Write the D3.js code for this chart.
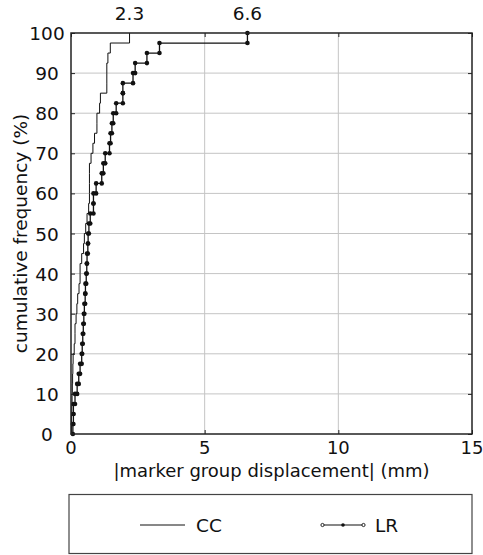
<!DOCTYPE html>
<html>
<head>
<meta charset="utf-8">
<script src="https://cdn.jsdelivr.net/npm/d3@7"></script>
<style>
  html, body { margin: 0; padding: 0; background: #fff; }
  svg { display: block; }
  text { font-family: "DejaVu Sans", sans-serif; fill: #111; }
</style>
</head>
<body>
<svg id="chart" width="483" height="555"></svg>
<script>
// sorted displacement samples (mm), each adding 2.5% cumulative frequency
const ccValues = [0.02, 0.02, 0.03, 0.04, 0.05, 0.06, 0.07, 0.08, 0.12, 0.15,
                  0.15, 0.19, 0.22, 0.25, 0.30, 0.34, 0.34, 0.40, 0.47, 0.50,
                  0.55, 0.60, 0.66, 0.69, 0.69, 0.69, 0.69, 0.75, 0.82, 0.88,
                  0.97, 0.97, 1.07, 1.10, 1.34, 1.34, 1.34, 1.38, 1.47, 2.19];
const lrValues = [0.07, 0.09, 0.09, 0.15, 0.23, 0.29, 0.34, 0.40, 0.42, 0.44,
                  0.46, 0.48, 0.50, 0.53, 0.54, 0.57, 0.59, 0.60, 0.63, 0.64,
                  0.67, 0.72, 0.84, 0.84, 0.94, 1.15, 1.21, 1.28, 1.44, 1.48,
                  1.53, 1.58, 1.69, 1.94, 1.94, 2.32, 2.40, 2.84, 3.31, 6.60];
const xTicks = [0, 5, 10, 15];
const yTicks = [0, 10, 20, 30, 40, 50, 60, 70, 80, 90, 100];
const maxLabels = [{ v: 2.19, label: "2.3" }, { v: 6.6, label: "6.6" }];
const seriesNames = ["CC", "LR"];
const xTitle = "|marker group displacement| (mm)";
const yTitle = "cumulative frequency (%)";

const FS = 18.5;
const svg = d3.select("#chart");
const L = 71, R = 472, T = 33, B = 434;
const x = d3.scaleLinear().domain([0, 15]).range([L, R]);
const y = d3.scaleLinear().domain([0, 100]).range([B, T]);

// grid
svg.append("g").selectAll("line").data(yTicks.slice(1, -1)).join("line")
  .attr("x1", L).attr("x2", R).attr("y1", d => y(d)).attr("y2", d => y(d))
  .attr("stroke", "#c4c4c4").attr("stroke-width", 1);
svg.append("g").selectAll("line").data(xTicks.slice(1, -1)).join("line")
  .attr("y1", T).attr("y2", B).attr("x1", d => x(d)).attr("x2", d => x(d))
  .attr("stroke", "#c4c4c4").attr("stroke-width", 1);

// axes via d3 (inward ticks)
function inward(g) { g.select(".domain").remove(); g.selectAll("line").attr("stroke", "#222"); }
svg.append("g").attr("transform", `translate(${L},0)`)
  .call(d3.axisLeft(y).tickValues(yTicks).tickSize(-4).tickFormat("")).call(inward);
svg.append("g").attr("transform", `translate(0,${B})`)
  .call(d3.axisBottom(x).tickValues(xTicks).tickSize(-4).tickFormat("")).call(inward);
svg.append("g").attr("transform", `translate(0,${T})`)
  .call(d3.axisTop(x).tickValues(xTicks).tickSize(-4).tickFormat("")).call(inward);
svg.append("g").attr("transform", `translate(${R},0)`)
  .call(d3.axisRight(y).tickValues(yTicks).tickSize(-4).tickFormat("")).call(inward);

// tick labels
svg.append("g").selectAll("text").data(yTicks).join("text")
  .attr("x", 47).attr("y", d => y(d) + 7).attr("text-anchor", "middle")
  .attr("font-size", FS).text(d => d);
svg.append("g").selectAll("text").data(xTicks).join("text")
  .attr("x", d => x(d)).attr("y", B + 20).attr("text-anchor", "middle")
  .attr("font-size", 18).text(d => d);

// step curves
function stepPoints(vals) {
  const n = vals.length, pts = [];
  vals.forEach((v, i) => { pts.push([v, i / n * 100]); pts.push([v, (i + 1) / n * 100]); });
  return pts;
}
const line = d3.line().x(d => x(d[0])).y(d => y(d[1]));
const ccPts = stepPoints(ccValues), lrPts = stepPoints(lrValues);
svg.append("path").attr("d", line(ccPts)).attr("fill", "none").attr("stroke", "#111").attr("stroke-width", 1);
svg.append("path").attr("d", line(lrPts)).attr("fill", "none").attr("stroke", "#111").attr("stroke-width", 1.3);
svg.append("g").selectAll("circle").data(lrPts).join("circle")
  .attr("cx", d => x(d[0])).attr("cy", d => y(d[1])).attr("r", 2.3).attr("fill", "#111");

// frame
svg.append("rect").attr("x", L).attr("y", T).attr("width", R - L).attr("height", B - T)
  .attr("fill", "none").attr("stroke", "#222").attr("stroke-width", 1.5);

// max labels
svg.append("g").selectAll("text").data(maxLabels).join("text")
  .attr("x", d => x(d.v)).attr("y", 20).attr("text-anchor", "middle")
  .attr("font-size", FS).text(d => d.label);

// titles
svg.append("text").attr("x", (L + R) / 2).attr("y", 477).attr("text-anchor", "middle")
  .attr("font-size", 18).text(xTitle);
svg.append("text").attr("transform", `translate(27,${(T + B) / 2}) rotate(-90)`)
  .attr("text-anchor", "middle").attr("font-size", FS).text(yTitle);

// legend
svg.append("rect").attr("x", 69).attr("y", 494.5).attr("width", 403).attr("height", 59)
  .attr("fill", "none").attr("stroke", "#444").attr("stroke-width", 1.2);
const ly = 525;
svg.append("line").attr("x1", 140).attr("x2", 185).attr("y1", ly).attr("y2", ly).attr("stroke", "#111");
svg.append("text").attr("x", 196).attr("y", ly + 7).attr("font-size", FS).text(seriesNames[0]);
svg.append("line").attr("x1", 322).attr("x2", 364).attr("y1", ly).attr("y2", ly).attr("stroke", "#111").attr("stroke-width", 1.2);
svg.append("circle").attr("cx", 343).attr("cy", ly).attr("r", 1.8).attr("fill", "#111");
[322.5, 363.5].forEach(cx => svg.append("circle").attr("cx", cx).attr("cy", ly).attr("r", 1.6)
  .attr("fill", "#fff").attr("stroke", "#111").attr("stroke-width", 0.9));
svg.append("text").attr("x", 375).attr("y", ly + 7).attr("font-size", FS).text(seriesNames[1]);
</script>
</body>
</html>
